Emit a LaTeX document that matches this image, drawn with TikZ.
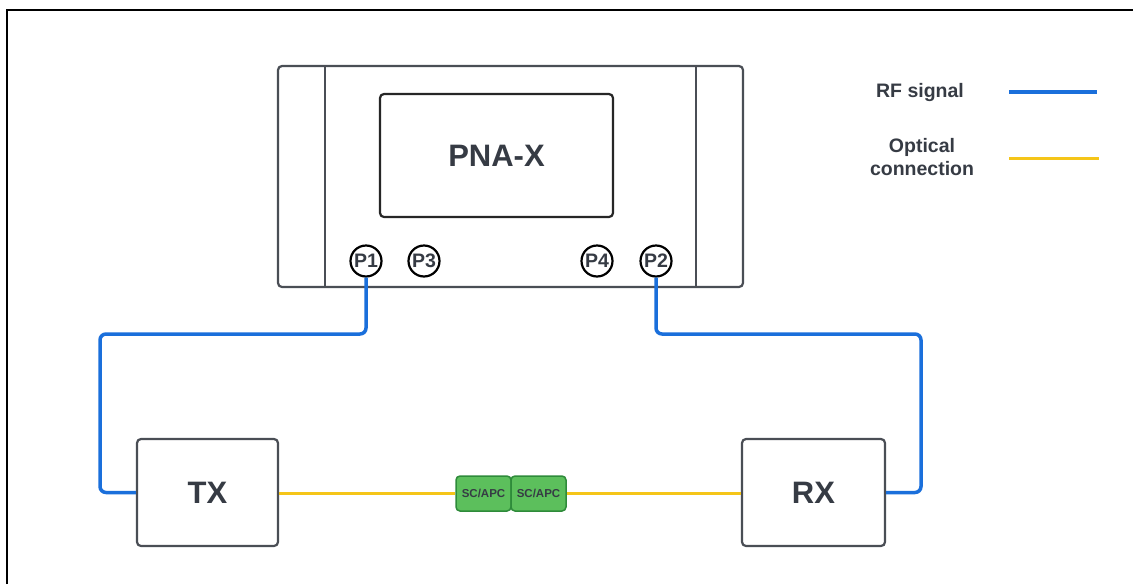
\documentclass[tikz,border=0pt]{standalone}
\usepackage{fontspec}
\setmainfont{Liberation Sans}
\definecolor{txt}{HTML}{363B44}
\definecolor{edge}{HTML}{4A4E55}
\definecolor{rfblue}{HTML}{1A6FDB}
\definecolor{optyel}{HTML}{F5C518}
\definecolor{cfill}{HTML}{5CBF5C}
\definecolor{cedge}{HTML}{2E8B3A}
\tikzset{
  box/.style={draw=edge,line width=2.2pt,rounded corners=4pt,fill=white,inner sep=0pt},
  port/.style={circle,draw=black,line width=2.2pt,minimum size=31pt,inner sep=0pt,font=\bfseries\fontsize{19.5}{19.5}\selectfont,text=txt,fill=white},
  conn/.style={draw=cedge,line width=1.5pt,fill=cfill,rounded corners=4pt,minimum width=55pt,minimum height=35pt,inner sep=0pt,font=\bfseries\fontsize{11.5}{11.5}\selectfont,text=txt},
  rf/.style={draw=rfblue,line width=3.5pt,rounded corners=6pt},
  opt/.style={draw=optyel,line width=3pt},
  big/.style={font=\bfseries\fontsize{31}{31}\selectfont,text=txt},
  leg/.style={font=\bfseries\fontsize{19.5}{23}\selectfont,text=txt,align=center}
}
\begin{document}
\begin{tikzpicture}[x=1pt,y=-1pt]
\useasboundingbox (0,0) rectangle (1133,584);
\draw[black,line width=2pt] (7,584) -- (7,10) -- (1133,10);
% PNA-X body
\node[box,minimum width=465pt,minimum height=221pt] (pna) at (510.5,176.5) {};
\draw[edge,line width=2.2pt] (325,66) -- (325,287);
\draw[edge,line width=2.2pt] (696,66) -- (696,287);
\node[box,draw=black!85,minimum width=233pt,minimum height=123pt,big] (screen) at (496.5,155.5) {PNA-X};
% ports
\node[port] (p1) at (366,261) {P1};
\node[port] (p3) at (424,261) {P3};
\node[port] (p4) at (597,261) {P4};
\node[port] (p2) at (656,261) {P2};
% TX / RX
\node[box,minimum width=141pt,minimum height=107pt,big] (tx) at (207.5,492.5) {TX};
\node[box,minimum width=143pt,minimum height=107pt,big] (rx) at (813.5,492.5) {RX};
% connectors
\node[conn] (c1) at (483.5,493.5) {SC/APC};
\node[conn] (c2) at (538.5,493.5) {SC/APC};
% RF paths
\coordinate (lb) at (100,334);
\coordinate (rb) at (921,334);
\draw[rf] (p1.south) |- (lb) |- (tx.west);
\draw[rf] (p2.south) |- (rb) |- (rx.east);
% optical
\draw[opt] (tx.east |- c1.west) -- (c1.west);
\draw[opt] (c2.east) -- (rx.west |- c2.east);
% legend
\node[leg] (lrf) at (920,92) {RF signal};
\node[leg] (lopt) at (922,157) {Optical\\connection};
\coordinate (lrfa) at (1009,92);
\coordinate (lrfb) at (1097,92);
\coordinate (lopa) at (1009,158);
\coordinate (lopb) at (1099,158);
\draw[rfblue,line width=3.5pt] (lrfa) -- (lrfb);
\draw[opt] (lopa) -- (lopb);
\end{tikzpicture}
\end{document}
